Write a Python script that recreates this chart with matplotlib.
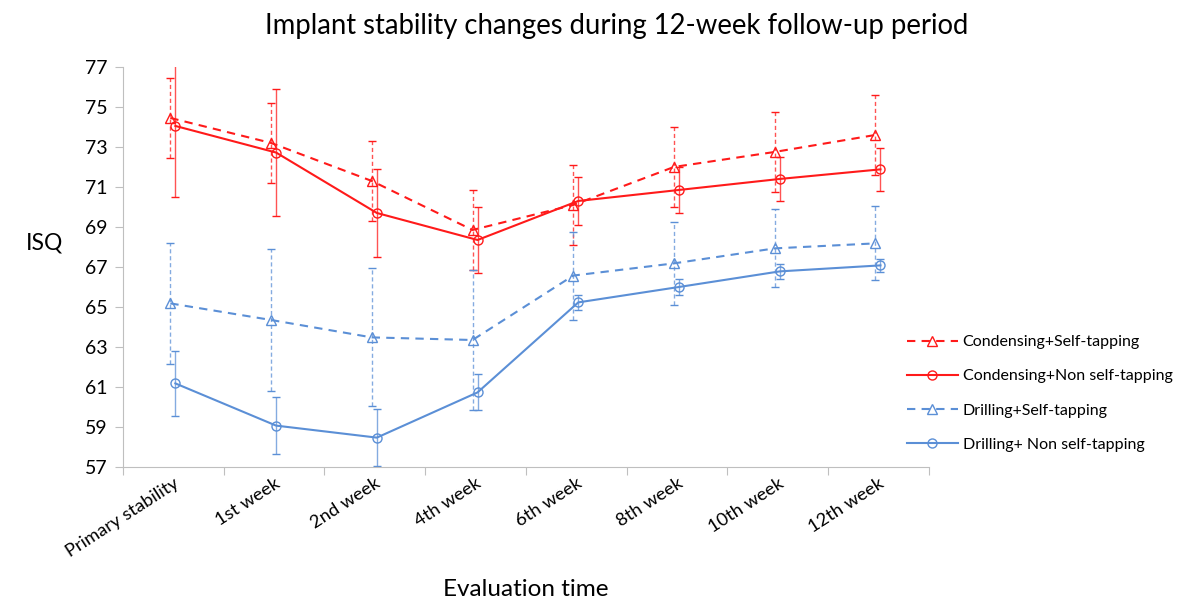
import matplotlib
matplotlib.use('Agg')
import matplotlib.pyplot as plt
import numpy as np

plt.rcParams['font.family'] = ['Lato', 'DejaVu Sans']

# evaluation times
times = ['Primary stability', '1st week', '2nd week', '4th week',
         '6th week', '8th week', '10th week', '12th week']

# mean ISQ and error (sd) per group
cond_self = [74.45, 73.2, 71.3, 68.85, 70.1, 72.0, 72.75, 73.6]
cond_self_err = [2.0, 2.0, 2.0, 2.0, 2.0, 2.0, 2.0, 2.0]
cond_non = [74.05, 72.72, 69.7, 68.35, 70.3, 70.85, 71.4, 71.88]
cond_non_err = [3.55, 3.18, 2.2, 1.65, 1.2, 1.17, 1.12, 1.08]
drill_self = [65.18, 64.35, 63.48, 63.35, 66.57, 67.18, 67.93, 68.18]
drill_self_err = [3.02, 3.55, 3.45, 3.5, 2.2, 2.07, 1.95, 1.85]
drill_non = [61.18, 59.07, 58.47, 60.73, 65.23, 66.0, 66.78, 67.08]
drill_non_err = [1.63, 1.41, 1.42, 0.9, 0.38, 0.39, 0.36, 0.32]

red = '#FF1A1A'
blue = '#5B8FD6'

fig = plt.figure(figsize=(11.85, 6.03), dpi=100)
ax = fig.add_axes([0.1038, 0.2255, 0.680, 0.6635])

x = np.arange(len(times))

series = [
    (cond_self, cond_self_err, red, '--', '^', 'Condensing+Self-tapping', -0.03),
    (cond_non, cond_non_err, red, '-', 'o', 'Condensing+Non self-tapping', 0.02),
    (drill_self, drill_self_err, blue, '--', '^', 'Drilling+Self-tapping', -0.03),
    (drill_non, drill_non_err, blue, '-', 'o', 'Drilling+ Non self-tapping', 0.02),
]

handles = []
for vals, err, col, ls, mk, lab, off in series:
    eb = ax.errorbar(x + off, vals, yerr=err, color=col, ls=ls, lw=1.5,
                     marker=mk, ms=6.5, mfc='none', mec=col, mew=1,
                     ecolor=col, elinewidth=1, capsize=3, capthick=1,
                     label=lab, dashes=(4, 3) if ls == '--' else (None, None))
    for bar in eb[2]:
        bar.set_alpha(0.75)
        if ls == '--':
            bar.set_linestyle((0, (3, 2)))
    handles.append(eb)

ax.set_xlim(-0.5, len(times) - 0.5)
ax.set_ylim(57, 77)
ax.set_yticks(np.arange(57, 78, 2))
ax.set_xticks(np.arange(-0.5, len(times), 1))
ax.set_xticklabels([])
ax.set_xticks(x, minor=True)
ax.set_xticklabels(times, minor=True, rotation=33, ha='right',
                   rotation_mode='anchor', fontsize=13.2)
ax.tick_params(axis='x', which='minor', length=0, pad=6)
ax.tick_params(axis='x', which='major', length=6, color='#BFBFBF')
ax.tick_params(axis='y', length=6, color='#BFBFBF', labelsize=14, pad=5)

for s in ['top', 'right']:
    ax.spines[s].set_visible(False)
for s in ['left', 'bottom']:
    ax.spines[s].set_color('#BFBFBF')

ax.set_ylabel('ISQ', fontsize=16.5, rotation=0, va='center', ha='center')
ax.yaxis.set_label_coords(-0.097, 0.56)
ax.set_xlabel('Evaluation time', fontsize=17.5, labelpad=14)
fig.suptitle('Implant stability changes during 12-week follow-up period',
             fontsize=19.8, x=0.52, y=0.978)

leg = fig.legend(handles=[h[0] for h in handles],
                 labels=[s[5] for s in series],
                 loc='upper left', bbox_to_anchor=(0.753, 0.468),
                 frameon=False, fontsize=11.5, handlelength=3.2,
                 labelspacing=1.25, handletextpad=0.3)

fig.savefig('out.png', dpi=100)
